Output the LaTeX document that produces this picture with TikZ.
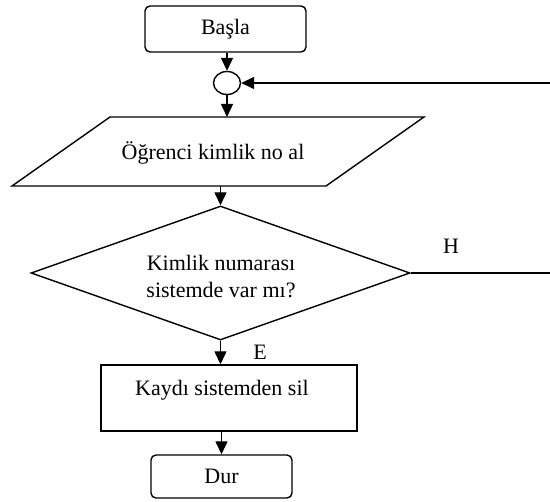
\documentclass[tikz,border=0pt]{standalone}
\usepackage{fontspec}
\setmainfont{Liberation Serif}
\usetikzlibrary{shapes.geometric,arrows.meta}
\begin{document}
\begin{tikzpicture}[x=1pt,y=-1pt,line width=1.4pt,
  >={Triangle[length=13pt,width=12pt]},
  txt/.style={font=\fontsize{22}{27}\selectfont,inner sep=0pt},
  term/.style={draw,rounded corners=5pt,inner sep=0pt,font=\fontsize{22}{27}\selectfont},
  box/.style={draw,inner sep=0pt}]
\useasboundingbox (0,0) rectangle (550,502);
% start
\node[term,minimum width=161pt,minimum height=46pt] (basla) at (225.5,29) {Başla};
% connector circle
\node[draw,ellipse,inner sep=0pt,minimum width=27pt,minimum height=23pt] (circ) at (227,83) {};
% input parallelogram
\draw (12,186) -- (326,186) -- (424,117) -- (110,117) -- cycle;
\node[txt] (inp) at (213,153) {Öğrenci kimlik no al};
\coordinate (ptop) at (227,117);
\coordinate (pbot) at (220.5,186);
% decision
\node[draw,diamond,inner sep=0pt,minimum width=379pt,minimum height=134pt] (dia) at (220.5,273) {};
\node[txt,align=center] (q) at (221,277) {Kimlik numarası\\sistemde var mı?};
% process
\node[box,minimum width=256pt,minimum height=66pt] (kayit) at (229,398) {};
\node[txt] (kayittxt) at (222,390) {Kaydı sistemden sil};
% end
\node[term,minimum width=141pt,minimum height=43pt] (dur) at (221.5,476.5) {Dur};
% labels
\node[txt] (E) at (260,352) {E};
\node[txt] (H) at (451,246) {H};
% connectors
\coordinate (ret) at (550,83);
\coordinate (hend) at (550,273);
\draw[->] (basla.south -| circ.north) -- (circ.north);
\draw[->] (ret) -- (circ.east);
\draw[->] (circ.south) -- (ptop);
\draw[->] (pbot) -- (dia.north);
\draw (dia.east) -- (hend);
\draw[->] (dia.south) -- (dia.south |- kayit.north);
\draw[->] (dur.north |- kayit.south) -- (dur.north);
\end{tikzpicture}
\end{document}
